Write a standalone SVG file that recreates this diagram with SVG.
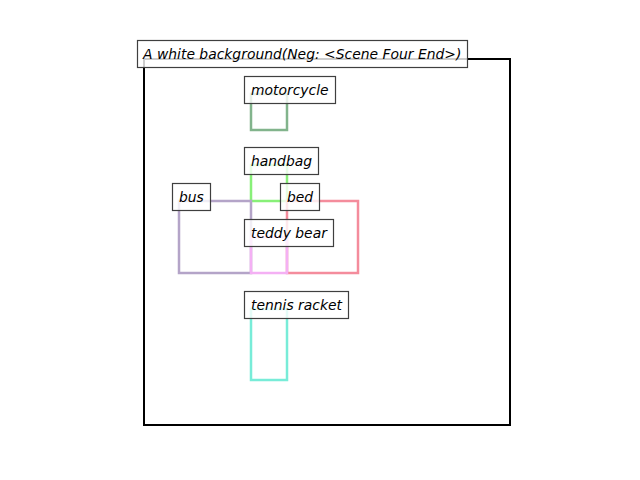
<svg xmlns="http://www.w3.org/2000/svg" width="640" height="480" viewBox="0 0 640 480">
<style>
.box{fill:none;stroke-width:2.5}
.lab{fill:#ffffff;fill-opacity:0.8;stroke:#3f3f3f;stroke-width:1.2}
text{font-family:"DejaVu Sans",sans-serif;font-style:oblique;font-size:13.9px;fill:#000}
</style>
<rect x="0" y="0" width="640" height="480" fill="#ffffff"/>
<rect id="axes" x="144" y="59" width="366" height="366" fill="none" stroke="#000" stroke-width="2"/>
<g id="boxes">
<rect class="box" x="251" y="94" width="36" height="36" stroke="#82b48c"/>
<rect class="box" x="251" y="165" width="36" height="36" stroke="#88f078"/>
<rect class="box" x="179" y="201" width="72" height="72" stroke="#b4a4c8"/>
<rect class="box" x="287" y="201" width="71" height="72" stroke="#f48c9c"/>
<rect class="box" x="251" y="237" width="36" height="36" stroke="#f4b0f4"/>
<rect class="box" x="251" y="309" width="36" height="71" stroke="#78ecd8"/>
</g>
<g id="title"><rect class="lab" x="137.5" y="40.5" width="330" height="27"/><text x="143" y="58.5">A white background(Neg: &lt;Scene Four End&gt;)</text></g>
<g id="motorcycle"><rect class="lab" x="244.5" y="76.5" width="91" height="27"/><text x="251" y="94.5">motorcycle</text></g>
<g id="handbag"><rect class="lab" x="244.5" y="147.5" width="74" height="27"/><text x="251" y="165.5">handbag</text></g>
<g id="bus"><rect class="lab" x="172.5" y="183.5" width="38" height="27"/><text x="179" y="201.5">bus</text></g>
<g id="bed"><rect class="lab" x="280.5" y="183.5" width="39" height="27"/><text x="287" y="201.5">bed</text></g>
<g id="teddy-bear"><rect class="lab" x="244.5" y="219.5" width="89" height="27"/><text x="251" y="237.5">teddy bear</text></g>
<g id="tennis-racket"><rect class="lab" x="244.5" y="291.5" width="104" height="27"/><text x="251" y="309.5">tennis racket</text></g>
</svg>
